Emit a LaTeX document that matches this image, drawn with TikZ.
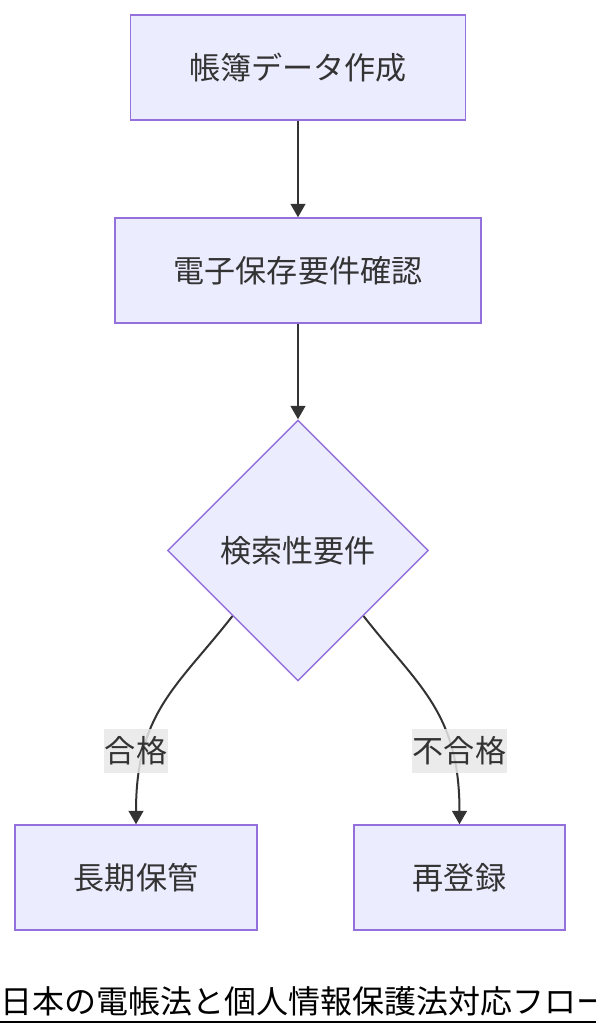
\documentclass[tikz,border=0pt]{standalone}
\usepackage{fontspec}
\setmainfont{Noto Sans CJK JP}
\usetikzlibrary{arrows.meta,shapes.geometric}
\definecolor{nfill}{HTML}{ECECFF}
\definecolor{nline}{HTML}{9370DB}
\definecolor{ink}{HTML}{333333}
\definecolor{lfill}{HTML}{E8E8E8}
\tikzset{bx/.append style={draw=nline,fill=nfill,line width=1.1pt,minimum height=78.75pt,inner sep=0pt,text=ink,font=\fontsize{23.3}{28}\selectfont}}
\tikzset{dm/.append style={bx,diamond,aspect=1,minimum width=195.75pt,minimum height=195.75pt}}
\tikzset{lb/.append style={fill=lfill,fill opacity=0.85,text opacity=1,text=ink,inner xsep=0.5pt,inner ysep=6pt,font=\fontsize{23.3}{28}\selectfont}}
\tikzset{ar/.append style={draw=ink,line width=1.5pt,-{Triangle[length=10pt,width=11pt]}}}

\begin{document}
\begin{tikzpicture}[x=0.75pt,y=-0.75pt]
                \useasboundingbox (0,0) rectangle (596,1036);
                % steps
                \node[bx,minimum width=251.25pt] (make) at (298,67.5) {帳簿データ作成};
                \node[bx,minimum width=274.5pt] (check) at (298,270.5) {電子保存要件確認};
                \node[dm] (search) at (298,550.5) {検索性要件};
                \node[bx,minimum width=181.5pt] (keep) at (136,877.5) {長期保管};
                \node[bx,minimum width=158.25pt] (redo) at (459.5,877.5) {再登録};
                \path (make) edge[ar] (check);
                \path (check) edge[ar] (search);
                \path (search.south west) edge[ar,out=232,in=90,in looseness=1.25] (keep);
                \path (search.south east) edge[ar,out=-52,in=90,in looseness=1.25] (redo);
                % labels
                \node[lb] (ok) at (136,751) {合格};
                \node[lb] (ng) at (459.5,751) {不合格};
                % title
                \node[anchor=base west,inner sep=0pt,font=\fontsize{24}{28}\selectfont] (title) at (0,1013) {日本の電帳法と個人情報保護法対応フロー};
                \draw[line width=1.5pt] (0,1022) -- (596,1022);
            \end{tikzpicture}
\end{document}
